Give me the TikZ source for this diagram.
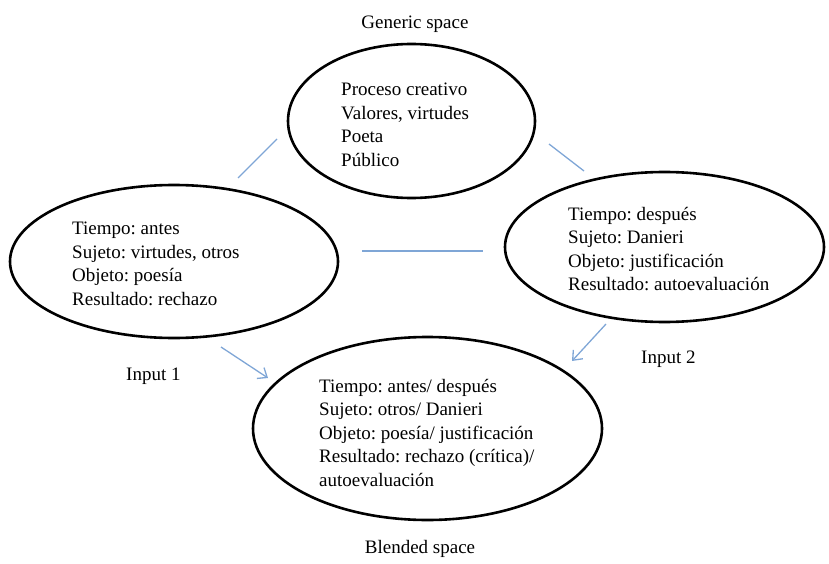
\documentclass[tikz,border=0pt]{standalone}
\usepackage{fontspec}
\setmainfont{Liberation Serif}
\usetikzlibrary{shapes.geometric,arrows.meta}
\definecolor{linkblue}{HTML}{7FA6D6}
\frenchspacing
\tikzset{
  space/.style={draw=black, line width=2.6pt, ellipse, inner sep=0pt},
  body/.style={anchor=north west, align=left, inner sep=0pt, font=\fontsize{19}{23.5}\selectfont},
  lbl/.style={inner sep=0pt, font=\fontsize{19}{23.5}\selectfont},
  link/.style={draw=linkblue, line width=1.3pt},
  flow/.style={link, -{Straight Barb[length=8pt,width=13pt,line width=1.3pt]}}
}
\begin{document}
\begin{tikzpicture}[x=1pt,y=-1pt]
\useasboundingbox (0,0) rectangle (829,564);
% ellipses
\node[space, minimum width=247pt, minimum height=154pt] (gen) at (411.5,121) {};
\node[space, minimum width=328pt, minimum height=153pt] (in1) at (174,261.5) {};
\node[space, minimum width=319pt, minimum height=150pt] (in2) at (664.5,247) {};
\node[space, minimum width=349pt, minimum height=183pt] (bl) at (427.5,428.5) {};
% texts
\node[body] (gent) at (341,83) {Proceso creativo\\Valores, virtudes\\Poeta\\Público};
\node[body] (in1t) at (72,222) {Tiempo: antes\\Sujeto: virtudes, otros\\Objeto: poesía\\Resultado: rechazo};
\node[body] (in2t) at (568,207) {Tiempo: después\\Sujeto: Danieri\\Objeto: justificación\\Resultado: autoevaluación};
\node[body] (blt) at (319,379) {Tiempo: antes/ después\\Sujeto: otros/ Danieri\\Objeto: poesía/ justificación\\Resultado: rechazo (crítica)/\\autoevaluación};
% labels
\node[lbl, anchor=base] (genl) at (415,29) {Generic space};
\node[lbl, anchor=base west] (in1l) at (126,380) {Input 1};
\node[lbl, anchor=base west] (in2l) at (641,363) {Input 2};
\node[lbl, anchor=base] (bll) at (420,553) {Blended space};
% connector end points
\coordinate (a1) at (238,178); \coordinate (a2) at (277,139);
\coordinate (b1) at (549,144); \coordinate (b2) at (584,171);
\coordinate (c1) at (362,251); \coordinate (c2) at (483,251);
\coordinate (d1) at (221,347); \coordinate (d2) at (268,378);
\coordinate (e1) at (606,324); \coordinate (e2) at (572,361);
\draw[link] (a1) -- (a2);
\draw[link] (b1) -- (b2);
\draw[link] (c1) -- (c2);
\draw[flow] (d1) -- (d2);
\draw[flow] (e1) -- (e2);
\end{tikzpicture}
\end{document}
